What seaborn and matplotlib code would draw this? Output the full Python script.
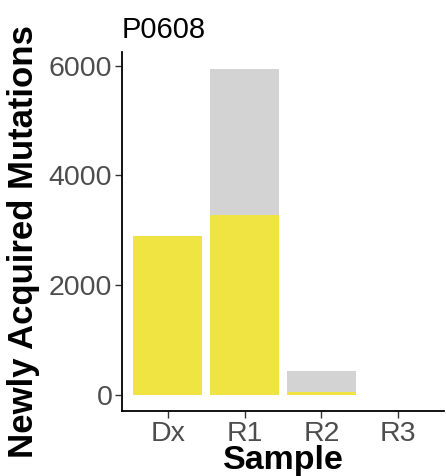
import matplotlib
matplotlib.use("Agg")
import matplotlib.pyplot as plt
import seaborn as sns
import pandas as pd

samples = ["Dx", "R1", "R2", "R3"]
clonal = [2890, 3270, 50, 2]        # yellow portion
subclonal = [0, 2675, 386, 0]       # grey portion stacked on top

sns.set_theme(style="white")
plt.rcParams["font.family"] = ["Liberation Sans", "DejaVu Sans"]

df = pd.DataFrame({"Sample": samples, "clonal": clonal,
                   "total": [c + s for c, s in zip(clonal, subclonal)]})

fig = plt.figure(figsize=(4.46, 4.76), dpi=100)
ax = fig.add_axes([0.2735, 0.1366, 0.722, 0.7542])

sns.barplot(data=df, x="Sample", y="total", color="#D3D3D3", width=0.9,
            saturation=1, ax=ax, order=samples, linewidth=0, edgecolor="none")
sns.barplot(data=df, x="Sample", y="clonal", color="#F0E442", width=0.9,
            saturation=1, ax=ax, order=samples, linewidth=0, edgecolor="none")

ax.set_xlim(-0.6, 3.6)
ax.set_ylim(-297, 6247)
ax.set_yticks([0, 2000, 4000, 6000])

for s in ["top", "right"]:
    ax.spines[s].set_visible(False)
for s in ["left", "bottom"]:
    ax.spines[s].set_color("black")
    ax.spines[s].set_linewidth(1.3)

ax.tick_params(axis="both", which="both", length=5, width=1.0, color="#333333",
               labelsize=20.5, labelcolor="#4D4D4D", left=True, bottom=True, pad=2)

ax.set_xlabel("Sample", fontsize=24.5, fontweight="bold", color="black",
              va="baseline")
ax.xaxis.set_label_coords(0.5, -0.163)
ax.set_ylabel("Newly Acquired Mutations", fontsize=25, fontweight="bold",
              color="black", va="center")
ax.yaxis.set_label_coords(-0.306, 0.471)
ax.set_title("P0608", loc="left", fontsize=21, color="black", pad=10)

fig.savefig("out.png", dpi=100)
